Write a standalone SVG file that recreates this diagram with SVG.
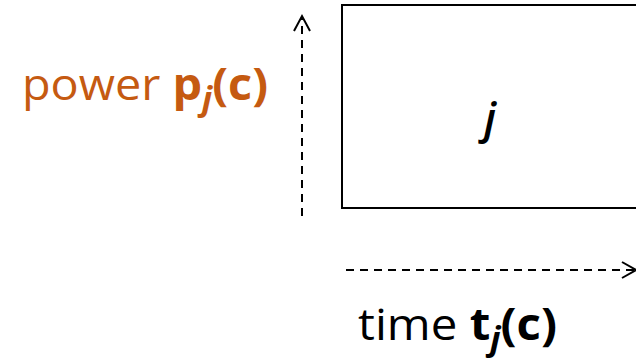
<svg xmlns="http://www.w3.org/2000/svg" width="636" height="360" viewBox="0 0 636 360">
<style>
.t{font-family:"Open Sans","Noto Sans",sans-serif;font-size:44px}
.axis{fill:none;stroke:#000;stroke-width:2;stroke-dasharray:8,6}
.head{fill:none;stroke:#000;stroke-width:2}
</style>
<rect width="636" height="360" fill="#fff"/>
<g id="connectors">
<line class="axis" x1="302" y1="216" x2="302" y2="18"/>
<polyline class="head" points="294,31 302,16 310,31"/>
<line class="axis" x1="346" y1="270" x2="634" y2="270"/>
<polyline class="head" points="622,262 636,270 622,278"/>
</g>
<g id="node-j">
<rect x="342" y="5" width="300" height="203" fill="none" stroke="#000" stroke-width="2"/>
<text class="t" x="490" y="134" text-anchor="middle" font-style="italic" font-weight="600" font-size="90">j</text>
</g>
<g id="label-power">
<text class="t" x="22" y="100" fill="#C55A11" textLength="246" lengthAdjust="spacingAndGlyphs">power <tspan font-weight="bold">p</tspan><tspan font-style="italic" font-weight="bold" font-size="32" dy="10">j</tspan><tspan font-weight="bold" dy="-10">(c)</tspan></text>
</g>
<g id="label-time">
<text class="t" x="358" y="340" fill="#000" textLength="199" lengthAdjust="spacingAndGlyphs">time <tspan font-weight="bold">t</tspan><tspan font-style="italic" font-weight="bold" font-size="32" dy="10">j</tspan><tspan font-weight="bold" dy="-10">(c)</tspan></text>
</g>
</svg>
